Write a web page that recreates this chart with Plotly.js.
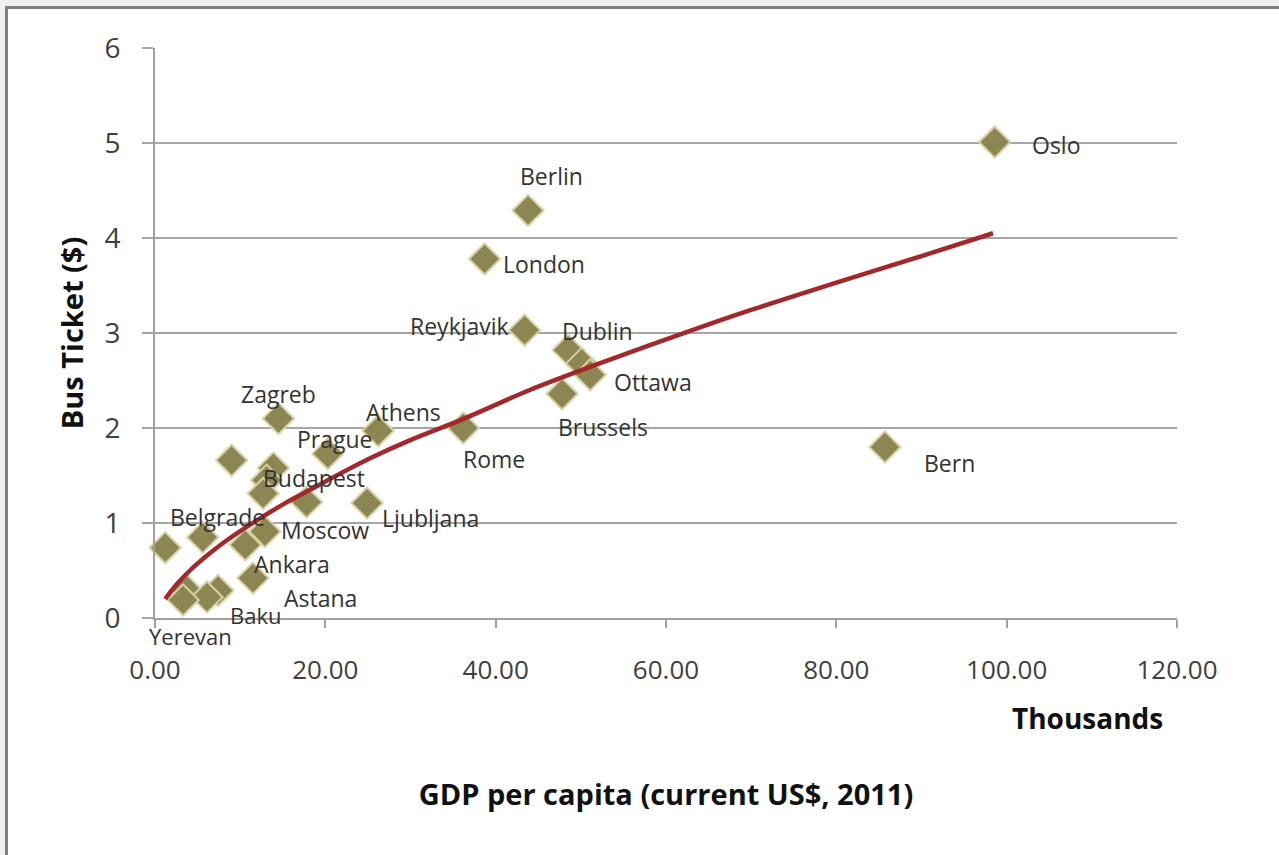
<!DOCTYPE html>
<html>
<head>
<meta charset="utf-8">
<script src="https://cdn.plot.ly/plotly-3.0.1.min.js"></script>
<style>
  html, body { margin:0; padding:0; width:1279px; height:855px; overflow:hidden; background:#efefef; }
  #frame { position:absolute; left:5px; top:6px; width:1290px; height:870px; background:#ffffff;
           border-top:3px solid #7f7f7f; border-left:3px solid #7f7f7f; }
  #chart { position:absolute; left:0; top:0; width:1279px; height:855px; }
</style>
</head>
<body>
<div id="frame"></div>
<div id="chart"></div>
<script>
// ---- data ----
const cities = ["Oslo","Berlin","London","Reykjavik","Dublin","Ottawa","","Brussels","Rome","Athens",
                "Bern","Ljubljana","Zagreb","Prague","","Budapest","","","","Belgrade",
                "","Moscow","Ankara","Astana","Yerevan","Baku","",""];
const gdpThousands = [98.6, 43.8, 38.7, 43.4, 48.5, 50.1, 51.1, 47.8, 36.2, 26.2,
                      85.7, 24.9, 14.5, 20.3, 9.0, 13.9, 13.1, 12.7, 17.8, 5.6,
                      1.2, 12.9, 10.6, 11.5, 3.75, 7.4, 6.1, 3.3];
const busTicket = [5.01, 4.29, 3.78, 3.03, 2.82, 2.68, 2.56, 2.36, 2.00, 1.97,
                   1.80, 1.21, 2.10, 1.73, 1.66, 1.58, 1.45, 1.31, 1.22, 0.85,
                   0.74, 0.91, 0.77, 0.42, 0.29, 0.29, 0.22, 0.19];
// trend line as drawn in the reference
const trendX = [1.2, 2.5, 4.1, 6.0, 8.0, 12.0, 15.5, 18.2, 25.0, 29.9, 35.8, 44.0, 52.2, 64.0, 69.9, 80.0, 90.0, 98.4];
const trendY = [0.20, 0.35, 0.50, 0.65, 0.79, 1.03, 1.22, 1.35, 1.67, 1.87, 2.08, 2.40, 2.68, 3.06, 3.24, 3.53, 3.81, 4.05];
const xTickVals = [0, 20, 40, 60, 80, 100, 120];
const yTickVals = [0, 1, 2, 3, 4, 5, 6];

// label placement offsets (pixels from marker centre: right, down)
const labelOffsets = {
  "Oslo":[62,3], "Berlin":[23,-34], "London":[59,5], "Reykjavik":[-65,-4], "Dublin":[29,-19],
  "Ottawa":[71,19], "Brussels":[41,33], "Rome":[31,31], "Athens":[25,-19], "Bern":[65,16],
  "Ljubljana":[63,15], "Zagreb":[0,-25], "Prague":[7,-15], "Budapest":[41,10], "Belgrade":[15,-20],
  "Moscow":[60,-2], "Ankara":[47,19], "Astana":[68,20], "Yerevan":[4,46], "Baku":[38,25]
};
const smallLabels = ["Yerevan", "Baku"];

const FONT = "'Open Sans', 'Noto Sans', sans-serif";

const points = {
  type: 'scatter', mode: 'markers',
  x: gdpThousands, y: busTicket, text: cities,
  cliponaxis: false,
  marker: { symbol: 'diamond', size: 24, color: '#8c8653',
            line: { color: '#d6d2a6', width: 2 } },
  hoverinfo: 'text+x+y', showlegend: false
};
const trend = {
  type: 'scatter', mode: 'lines', x: trendX, y: trendY,
  line: { color: '#a3282b', width: 4.5, shape: 'spline', smoothing: 0.8 },
  hoverinfo: 'skip', showlegend: false
};

const annotations = [];
cities.forEach((c, i) => {
  if (!c) return;
  const off = labelOffsets[c] || [30, 0];
  annotations.push({
    x: gdpThousands[i], y: busTicket[i], xref: 'x', yref: 'y',
    text: c, showarrow: false, xanchor: 'center', yanchor: 'middle',
    xshift: off[0], yshift: -off[1],
    font: { family: FONT, size: smallLabels.includes(c) ? 22 : 23, color: '#333333' }
  });
});
annotations.push({
  xref: 'paper', yref: 'paper', x: (1087 - 155) / 1022, y: (618 - 718) / 570,
  text: 'Thousands', showarrow: false, xanchor: 'center', yanchor: 'middle',
  font: { family: FONT, size: 28, color: '#111111', weight: 'bold' }
});

const layout = {
  width: 1279, height: 855,
  margin: { l: 155, r: 102, t: 48, b: 237 },
  paper_bgcolor: 'rgba(0,0,0,0)', plot_bgcolor: 'rgba(0,0,0,0)',
  font: { family: FONT },
  showlegend: false,
  xaxis: {
    range: [0, 120], tickvals: xTickVals, tickformat: '.2f',
    showgrid: false, zeroline: false,
    showline: true, linecolor: '#a0a0a0', linewidth: 2,
    ticks: 'outside', ticklen: 8, tickwidth: 2, tickcolor: '#a0a0a0',
    ticklabelstandoff: 20,
    tickfont: { family: FONT, size: 26, color: '#404040' },
    title: { text: 'GDP per capita (current US$, 2011)', standoff: 98,
             font: { family: FONT, size: 29, color: '#111111', weight: 'bold' } }
  },
  yaxis: {
    range: [0, 6], tickvals: yTickVals,
    showgrid: true, gridcolor: '#a6a6a6', gridwidth: 2, zeroline: false,
    showline: true, linecolor: '#a0a0a0', linewidth: 2,
    ticks: 'outside', ticklen: 11, tickwidth: 2, tickcolor: '#a6a6a6',
    ticklabelstandoff: 16,
    tickfont: { family: FONT, size: 28, color: '#404040' },
    title: { text: 'Bus Ticket ($)', standoff: 12,
             font: { family: FONT, size: 29, color: '#111111', weight: 'bold' } }
  },
  annotations: annotations
};

Plotly.newPlot('chart', [points, trend], layout, { displayModeBar: false, staticPlot: true });
</script>
</body>
</html>
